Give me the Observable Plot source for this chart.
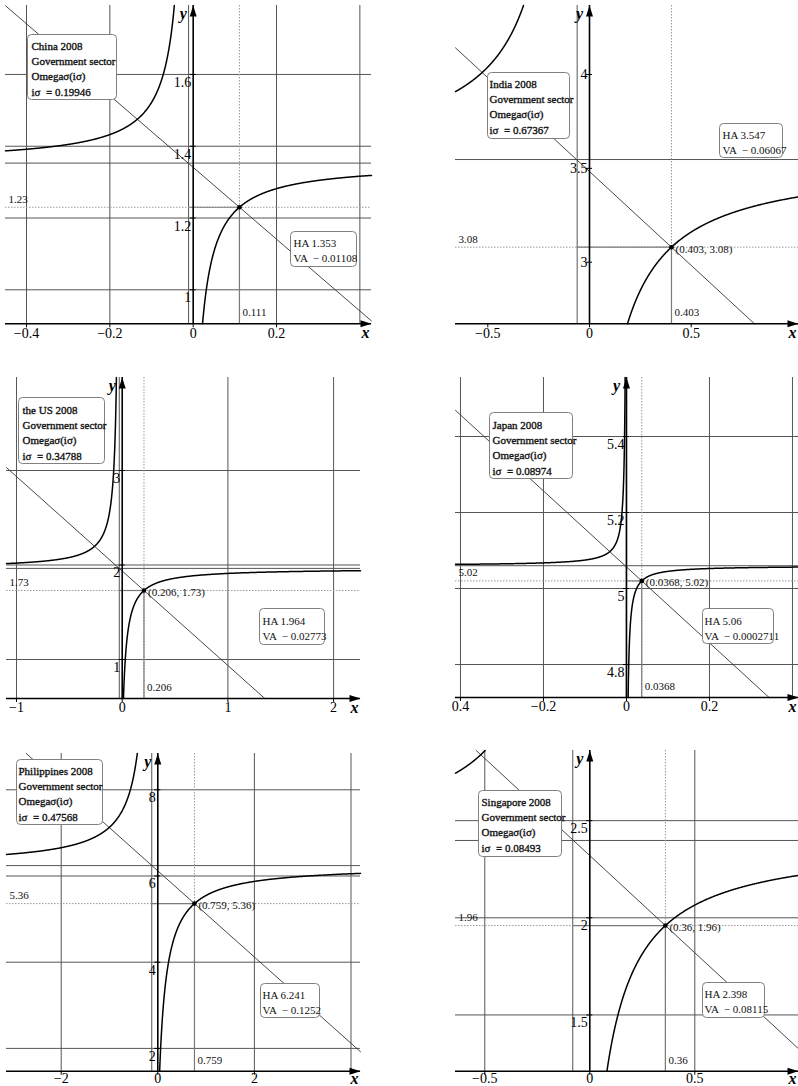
<!DOCTYPE html>
<html>
<head>
<meta charset="utf-8">
<script src="https://cdn.jsdelivr.net/npm/d3@7"></script>
<script src="https://cdn.jsdelivr.net/npm/@observablehq/plot@0.6"></script>
<style>
  body { margin: 0; background: #fff; }
  #chart { position: relative; width: 798px; height: 1086px; overflow: hidden; background: #fff; }
  #chart > div { position: absolute; }
</style>
</head>
<body>
<div id="chart"></div>
<script>
// Government sector, 2008: Omega(i) hyperbolas with their asymptotes and the fixed point i.
const countries = ["China", "India", "the US", "Japan", "Philippines", "Singapore"];
const iValues = ["0.19946", "0.67367", "0.34788", "0.08974", "0.47568", "0.08493"];
const horizontalAsymptote = [1.353, 3.547, 1.964, 5.06, 6.241, 2.398];
const verticalAsymptote = [-0.01108, -0.06067, -0.02773, -0.0002711, -0.1252, -0.08115];
const pointX = [0.111, 0.403, 0.206, 0.0368, 0.759, 0.36];
const pointY = [1.23, 3.08, 1.73, 5.02, 5.36, 1.96];
const showPointLabel = [false, true, true, true, true, true];

const xTickValues = [[-0.4, -0.2, 0, 0.2], [-0.5, 0, 0.5], [-1, 0, 1, 2], [-0.4, -0.2, 0, 0.2], [-2, 0, 2], [-0.5, 0, 0.5]];
const xTickLabels = [["−0.4", "−0.2", "0", "0.2"], ["−0.5", "0", "0.5"], ["−1", "0", "1", "2"], ["0.4", "−0.2", "0", "0.2"], ["−2", "0", "2"], ["−0.5", "0", "0.5"]];
const yTickValues = [[1, 1.2, 1.4, 1.6], [3, 3.5, 4], [1, 2, 3], [4.8, 5, 5.2, 5.4], [2, 4, 6, 8], [1.5, 2, 2.5]];
const yTickLabels = [["1", "1.2", "1.4", "1.6"], ["3", "3.5", "4"], ["1", "2", "3"], ["4.8", "5", "5.2", "5.4"], ["2", "4", "6", "8"], ["1.5", "2", "2.5"]];
const gridX = [[-0.4, -0.2, 0.2, 0.4], [], [-1, 1, 2], [-0.4, -0.2, 0.2, 0.4], [-2, 2, 4], [-0.5, 0.5]];
const gridY = [[1, 1.2, 1.4, 1.6], [], [1, 2, 3], [4.8, 5, 5.2, 5.4], [2, 4, 6, 8], [1.5, 2, 2.5]];

// Panel placement, plotting window and annotation boxes (pixels are panel-local).
const layout = [
  {left: 0, top: 0, width: 399, height: 345, frame: [5, 5, 371, 323.3], xDomain: [-0.4504, 0.4279], yDomain: [0.9053, 1.7921], yLabelDy: 8, xLabelDy: 9.5,
   boxA: {rect: [27, 34, 116, 99], text: [31, 43]}, boxB: {rect: [290, 231, 356, 266], text: [293, 240]}},
  {left: 400, top: 0, width: 398, height: 345, frame: [55, 5, 398, 323.3], xDomain: [-0.6588, 1.0275], yDomain: [2.6718, 4.3676], yLabelDy: 0, xLabelDy: 9.5,
   boxA: {rect: [87, 72, 169, 138], text: [89, 81]}, boxB: {rect: [319, 123, 382, 157], text: [322, 132]}},
  {left: 0, top: 360, width: 399, height: 360, frame: [6, 17, 360, 338], xDomain: [-1.0946, 2.2545], yDomain: [0.5873, 3.9841], yLabelDy: 8, xLabelDy: 9,
   boxA: {rect: [18, 37, 104, 103], text: [22, 47]}, boxB: {rect: [259, 248, 324, 284], text: [262, 258]}},
  {left: 400, top: 360, width: 398, height: 360, frame: [55, 17, 398, 337], xDomain: [-0.412, 0.4145], yDomain: [4.7132, 5.5553], yLabelDy: 8, xLabelDy: 9,
   boxA: {rect: [89, 52, 172, 118], text: [92, 62]}, boxB: {rect: [302, 248, 373, 283], text: [304, 258]}},
  {left: 0, top: 720, width: 399, height: 366, frame: [6, 33, 360, 350.7], xDomain: [-3.1325, 4.1967], yDomain: [1.471, 8.842], yLabelDy: 8, xLabelDy: 7.5,
   boxA: {rect: [16, 39, 102, 104], text: [18, 48]}, boxB: {rect: [260, 263, 319, 297], text: [262, 272]}},
  {left: 400, top: 720, width: 398, height: 366, frame: [55, 30, 398, 350.7], xDomain: [-0.6395, 0.9938], yDomain: [1.2105, 2.861], yLabelDy: 8, xLabelDy: 7.5,
   boxA: {rect: [78, 70, 161, 136], text: [81, 79]}, boxB: {rect: [302, 262, 364, 297], text: [304, 271]}}
];

const fontFamily = '"Liberation Serif", "Times New Roman", Times, serif';
const gridColor = "#555";

// Filled arrowheads for the axis ends; the tip sits at the dot position.
const arrowUp = {
  draw(context, size) {
    const r = Math.sqrt(size / Math.PI);
    context.moveTo(0, 0);
    context.lineTo(-r * 0.7, r * 2.2);
    context.lineTo(r * 0.7, r * 2.2);
    context.closePath();
  }
};
const arrowRight = {
  draw(context, size) {
    const r = Math.sqrt(size / Math.PI);
    context.moveTo(0, 0);
    context.lineTo(-r * 2.2, -r * 0.7);
    context.lineTo(-r * 2.2, r * 0.7);
    context.closePath();
  }
};

// y = HA - m / (x - VA), passing through the marked point.
function hyperbola(ha, va, x0, y0, xDom, yDom) {
  const m = (ha - y0) * (x0 - va);
  const f = (x) => ha - m / (x - va);
  const pts = [];
  const n = 500;
  const r0 = m / (ha - yDom[0]), r1 = xDom[1] - va;
  if (r1 > r0) for (let k = 0; k <= n; ++k) {
    const d = r0 * Math.pow(r1 / r0, k / n);
    pts.push({x: va + d, y: f(va + d), branch: "right"});
  }
  const l0 = m / (yDom[1] - ha), l1 = va - xDom[0];
  if (l1 > l0) for (let k = 0; k <= n; ++k) {
    const d = l0 * Math.pow(l1 / l0, k / n);
    pts.push({x: va - d, y: f(va - d), branch: "left"});
  }
  return pts;
}

// The line x + y = x0 + y0 through the marked point, cut to the window.
function diagonal(x0, y0, xDom, yDom) {
  const c = x0 + y0;
  const xa = Math.max(xDom[0], c - yDom[1]);
  const xb = Math.min(xDom[1], c - yDom[0]);
  return [{x: xa, y: c - xa}, {x: xb, y: c - xb}];
}

function annotation(box, frame, lines, heavy) {
  const [fl, ft, fr, fb] = frame;
  const [bx0, by0, bx1, by1] = box.rect;
  return [
    Plot.frame({fill: "white", stroke: "#808080", strokeWidth: 1, rx: 4,
      insetLeft: bx0 - fl, insetTop: by0 - ft, insetRight: fr - bx1, insetBottom: fb - by1}),
    Plot.text([lines.join("\n")], {text: (d) => d, frameAnchor: "top-left", textAnchor: "start", lineAnchor: "top",
      dx: box.text[0] - fl, dy: box.text[1] - 4.5 - ft, fontSize: 11, lineHeight: 1.39, fill: "#111",
      stroke: heavy ? "#111" : "none", strokeWidth: heavy ? 0.35 : 0})
  ];
}

function panel(i) {
  const L = layout[i];
  const [fl, ft, fr, fb] = L.frame;
  const [xmin, xmax] = L.xDomain;
  const [ymin, ymax] = L.yDomain;
  const ha = horizontalAsymptote[i], va = verticalAsymptote[i];
  const x0 = pointX[i], y0 = pointY[i];

  const marks = [
    // grid
    Plot.ruleX(gridX[i], {x: (d) => d, stroke: gridColor, strokeWidth: 1}),
    Plot.ruleY(gridY[i], {y: (d) => d, stroke: gridColor, strokeWidth: 1}),
    // asymptotes
    Plot.ruleX([va], {x: (d) => d, stroke: gridColor, strokeWidth: 1}),
    Plot.ruleY([ha], {y: (d) => d, stroke: gridColor, strokeWidth: 1}),
    // projections of the marked point
    Plot.ruleX([x0], {x: (d) => d, stroke: "#9a9a9a", strokeWidth: 1, strokeDasharray: "1.5,1.5"}),
    Plot.ruleY([y0], {y: (d) => d, stroke: "#9a9a9a", strokeWidth: 1, strokeDasharray: "1.5,1.5"}),
    Plot.ruleX([x0], {x: (d) => d, y1: () => ymin, y2: () => y0, stroke: "#7a7a7a", strokeWidth: 1.2}),
    Plot.ruleY([y0], {y: (d) => d, x1: () => va, x2: () => x0, stroke: "#7a7a7a", strokeWidth: 1.2}),
    // line and curve
    Plot.line(diagonal(x0, y0, L.xDomain, L.yDomain), {x: "x", y: "y", stroke: "#333", strokeWidth: 0.9}),
    Plot.line(hyperbola(ha, va, x0, y0, L.xDomain, L.yDomain), {x: "x", y: "y", z: "branch", stroke: "#000", strokeWidth: 1.5}),
    // axes
    Plot.ruleY([ymin], {y: (d) => d, stroke: "#000", strokeWidth: 1.6}),
    Plot.ruleX([0], {x: (d) => d, stroke: "#000", strokeWidth: 1.6}),
    Plot.ruleX(xTickValues[i], {x: (d) => d, y1: () => ymin, y2: () => ymin, insetBottom: -4, stroke: "#000", strokeWidth: 1}),
    Plot.ruleY(yTickValues[i], {y: (d) => d, x1: () => 0, x2: () => 0, insetLeft: -3, insetRight: -3, stroke: "#000", strokeWidth: 1}),
    Plot.dot([[xmax, ymin]], {x: (d) => d[0], y: (d) => d[1], symbol: arrowRight, r: 5, fill: "#000", stroke: "none"}),
    Plot.dot([[0, ymax]], {x: (d) => d[0], y: (d) => d[1], symbol: arrowUp, r: 5, fill: "#000", stroke: "none"}),
    Plot.text(xTickValues[i], {x: (d) => d, text: (d, k) => xTickLabels[i][k], frameAnchor: "bottom", lineAnchor: "middle", dy: L.xLabelDy, fontSize: 14, fill: "#000"}),
    Plot.text(yTickValues[i], {x: () => 0, y: (d) => d, text: (d, k) => yTickLabels[i][k], textAnchor: "end", lineAnchor: "middle", dx: -2, dy: L.yLabelDy, fontSize: 14, fill: "#000"}),
    Plot.text(["x"], {text: (d) => d, frameAnchor: "bottom-right", lineAnchor: "middle", textAnchor: "middle", dx: -6, dy: L.xLabelDy, fontSize: 16, fontWeight: "bold", fontStyle: "italic", fill: "#000"}),
    Plot.text(["y"], {x: () => 0, text: (d) => d, frameAnchor: "top", lineAnchor: "middle", textAnchor: "middle", dx: -10, dy: 8, fontSize: 16, fontWeight: "bold", fontStyle: "italic", fill: "#000"}),
    // marked point and its labels
    Plot.dot([[x0, y0]], {x: (d) => d[0], y: (d) => d[1], r: 2.3, fill: "#000", stroke: "none"}),
    Plot.text([y0], {y: (d) => d, text: (d) => String(d), frameAnchor: "left", textAnchor: "start", lineAnchor: "middle", dx: 3, dy: -8, fontSize: 11, fill: "#111"}),
    Plot.text([x0], {x: (d) => d, text: (d) => String(d), frameAnchor: "bottom", textAnchor: "start", lineAnchor: "middle", dx: 3, dy: -11, fontSize: 11, fill: "#111"}),
    showPointLabel[i] ? Plot.text([[x0, y0]], {x: (d) => d[0], y: (d) => d[1], text: (d) => `(${d[0]}, ${d[1]})`, textAnchor: "start", lineAnchor: "middle", dx: 4, dy: 2, fontSize: 11, fill: "#111"}) : null,
    // annotation boxes
    ...annotation(L.boxA, L.frame, [`${countries[i]} 2008`, "Government sector", "Omegaσ(iσ)", `iσ  = ${iValues[i]}`], true),
    ...annotation(L.boxB, L.frame, [`HA ${ha}`, `VA  − ${Math.abs(va)}`], false)
  ].filter(Boolean);

  return Plot.plot({
    width: L.width,
    height: L.height,
    marginLeft: fl,
    marginTop: ft,
    marginRight: L.width - fr,
    marginBottom: L.height - fb,
    x: {domain: L.xDomain, axis: null},
    y: {domain: L.yDomain, axis: null},
    style: {fontFamily, fontSize: "11px", background: "transparent", color: "#000"},
    marks
  });
}

const chart = document.getElementById("chart");
countries.forEach((_, i) => {
  const L = layout[i];
  const holder = document.createElement("div");
  holder.style.left = L.left + "px";
  holder.style.top = L.top + "px";
  holder.style.width = L.width + "px";
  holder.style.height = L.height + "px";
  holder.appendChild(panel(i));
  chart.appendChild(holder);
});
</script>
</body>
</html>
